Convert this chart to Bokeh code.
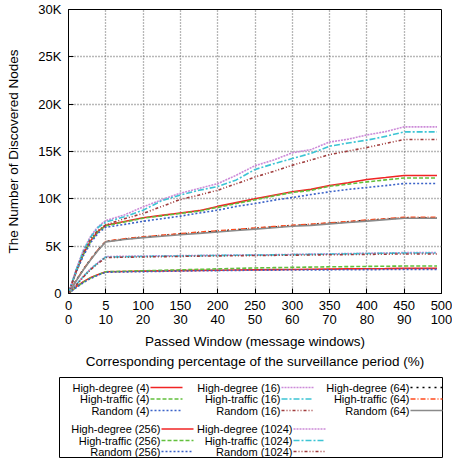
from bokeh.plotting import figure
from bokeh.models import Range1d, LinearAxis, FixedTicker, Title
from bokeh.layouts import column
from bokeh.embed import file_html
from bokeh.resources import INLINE
from bokeh.core.properties import value

# ---------------- data (values in thousands of nodes) ----------------
windows = [0, 10, 20, 30, 40, 50, 75, 100, 125, 150, 175, 200, 225, 250, 275,
           300, 325, 350, 375, 400, 425, 450, 494]

x_ticks = [0, 50, 100, 150, 200, 250, 300, 350, 400, 450, 500]
window_labels = ["0", "5", "100", "150", "200", "250", "300", "350", "400", "450", "500"]
percent_labels = ["0", "10", "20", "30", "40", "50", "60", "70", "80", "90", "100"]
y_ticks = [0, 5, 10, 15, 20, 25, 30]
y_labels = ["0", "5K", "10K", "15K", "20K", "25K", "30K"]

hd_4 = [0, 0.7, 1.25, 1.7, 2.0, 2.3, 2.33, 2.36, 2.39, 2.42, 2.44, 2.46, 2.48, 2.5, 2.52,
        2.54, 2.56, 2.58, 2.6, 2.62, 2.63, 2.65, 2.65]
ht_4 = [0, 0.65, 1.2, 1.65, 2.0, 2.3, 2.35, 2.4, 2.45, 2.5, 2.55, 2.6, 2.65, 2.7, 2.73,
        2.76, 2.79, 2.82, 2.84, 2.86, 2.88, 2.9, 2.9]
rnd_4 = [0, 0.6, 1.15, 1.6, 1.95, 2.25, 2.28, 2.31, 2.34, 2.37, 2.4, 2.42, 2.44, 2.46, 2.47,
         2.48, 2.49, 2.5, 2.51, 2.52, 2.53, 2.55, 2.55]

hd_16 = [0, 0.95, 1.85, 2.65, 3.3, 3.9, 3.93, 3.96, 3.98, 4.0, 4.02, 4.04, 4.06, 4.08, 4.1,
         4.13, 4.16, 4.19, 4.22, 4.25, 4.28, 4.32, 4.32]
ht_16 = [0, 0.9, 1.8, 2.6, 3.25, 3.85, 3.88, 3.91, 3.94, 3.97, 4.0, 4.02, 4.04, 4.06, 4.08,
         4.1, 4.13, 4.16, 4.19, 4.22, 4.25, 4.28, 4.28]
rnd_16 = [0, 0.85, 1.75, 2.55, 3.2, 3.8, 3.83, 3.86, 3.89, 3.92, 3.95, 3.97, 3.99, 4.01, 4.03,
          4.05, 4.07, 4.09, 4.11, 4.13, 4.15, 4.18, 4.18]

hd_64 = [0, 1.35, 2.55, 3.65, 4.65, 5.5, 5.75, 5.95, 6.12, 6.28, 6.43, 6.58, 6.73, 6.88, 7.02,
         7.16, 7.28, 7.42, 7.56, 7.72, 7.86, 8.0, 8.0]
ht_64 = [0, 1.35, 2.55, 3.65, 4.65, 5.5, 5.78, 5.98, 6.15, 6.32, 6.48, 6.62, 6.77, 6.92, 7.06,
         7.2, 7.32, 7.46, 7.6, 7.76, 7.9, 8.05, 8.05]
rnd_64 = [0, 1.3, 2.5, 3.6, 4.6, 5.45, 5.7, 5.9, 6.05, 6.2, 6.35, 6.5, 6.65, 6.8, 6.95,
          7.1, 7.2, 7.35, 7.5, 7.65, 7.8, 7.95, 7.95]

hd_256 = [0, 2.3, 4.2, 5.6, 6.6, 7.2, 7.6, 8.0, 8.25, 8.5, 8.75, 9.2, 9.6, 10.0, 10.38,
          10.74, 11.0, 11.41, 11.7, 12.04, 12.25, 12.47, 12.47]
ht_256 = [0, 2.25, 4.15, 5.55, 6.55, 7.15, 7.55, 7.95, 8.2, 8.45, 8.7, 9.1, 9.5, 9.9, 10.3,
          10.67, 10.9, 11.33, 11.55, 11.79, 12.0, 12.2, 12.2]
rnd_256 = [0, 2.2, 4.0, 5.4, 6.4, 7.0, 7.3, 7.63, 7.9, 8.17, 8.5, 8.8, 9.2, 9.5, 9.85,
           10.14, 10.45, 10.74, 11.0, 11.2, 11.4, 11.62, 11.62]

hd_1024 = [0, 2.5, 4.6, 6.1, 7.1, 7.7, 8.3, 9.15, 9.9, 10.6, 11.1, 11.6, 12.5, 13.5, 14.1,
           14.86, 15.2, 16.0, 16.3, 16.75, 17.1, 17.6, 17.6]
ht_1024 = [0, 2.4, 4.5, 6.0, 7.0, 7.55, 8.1, 8.8, 9.8, 10.4, 10.9, 11.3, 12.0, 13.1, 13.7,
           14.26, 14.8, 15.56, 15.9, 16.2, 16.6, 17.07, 17.07]
rnd_1024 = [0, 2.3, 4.3, 5.8, 6.7, 7.25, 7.9, 8.45, 9.2, 9.93, 10.4, 10.9, 11.6, 12.3, 12.9,
            13.55, 14.1, 14.68, 15.05, 15.42, 15.85, 16.27, 16.27]

labels = ["High-degree (4)", "High-traffic (4)", "Random (4)",
          "High-degree (16)", "High-traffic (16)", "Random (16)",
          "High-degree (64)", "High-traffic (64)", "Random (64)",
          "High-degree (256)", "High-traffic (256)", "Random (256)",
          "High-degree (1024)", "High-traffic (1024)", "Random (1024)"]
values = [hd_4, ht_4, rnd_4, hd_16, ht_16, rnd_16, hd_64, ht_64, rnd_64,
          hd_256, ht_256, rnd_256, hd_1024, ht_1024, rnd_1024]

# ---------------- styles ----------------
RED, GREEN, BLUE = "#f02424", "#62c03c", "#3a62c8"
PINK, CYAN, BROWN = "#cc8ad8", "#3cc4d4", "#a03c3c"
BLACK, ORANGE, GRAY = "#000000", "#ff4a1c", "#8a8a8a"
styles = [
    (RED, "solid"), (GREEN, "4 2"), (BLUE, "2 2"),
    (PINK, "2 1"), (CYAN, "6 2 2 2"), (BROWN, "3 2 1 2 1 2"),
    (BLACK, "2 4"), (ORANGE, "5 2 1 2"), (GRAY, "solid"),
    (RED, "solid"), (GREEN, "4 2"), (BLUE, "2 2"),
    (PINK, "2 1"), (CYAN, "6 2 2 2"), (BROWN, "3 2 1 2 1 2"),
]
FONT = "Liberation Sans"

W = 452
H_CHART = 370
H_LEG = 88

# ---------------- chart ----------------
p = figure(width=W, height=H_CHART, output_backend="svg", toolbar_location=None,
           x_range=Range1d(0, 500), y_range=Range1d(0, 30),
           min_border_left=68, min_border_right=11, min_border_top=9, min_border_bottom=77)
p.outline_line_color = "black"
p.outline_line_width = 1
p.outline_line_alpha = 1

xa = p.xaxis[0]
xa.ticker = FixedTicker(ticks=x_ticks)
xa.major_label_overrides = {t: s for t, s in zip(x_ticks, window_labels)}
xa.major_tick_in = 5
xa.major_tick_out = 0
xa.minor_tick_line_color = None
xa.major_label_standoff = 7
xa.major_label_text_font = FONT
xa.major_label_text_font_size = "13px"
xa.major_label_text_color = "black"
xa.axis_line_color = "black"

ya = p.yaxis[0]
ya.ticker = FixedTicker(ticks=y_ticks)
ya.major_label_overrides = {t: s for t, s in zip(y_ticks, y_labels)}
ya.major_tick_in = 5
ya.major_tick_out = 0
ya.minor_tick_line_color = None
ya.major_label_standoff = 7
ya.major_label_text_font = FONT
ya.major_label_text_font_size = "13px"
ya.major_label_text_color = "black"
ya.axis_label = "The Number of Discovered Nodes"
ya.axis_label_text_font = FONT
ya.axis_label_text_font_size = "13.5px"
ya.axis_label_text_font_style = "normal"
ya.axis_label_text_color = "black"
ya.axis_label_standoff = 14

xa2 = LinearAxis(ticker=FixedTicker(ticks=x_ticks),
                 major_label_overrides={t: s for t, s in zip(x_ticks, percent_labels)},
                 axis_line_color=None, major_tick_line_color=None, minor_tick_line_color=None,
                 major_tick_in=0, major_tick_out=0, major_label_standoff=2,
                 major_label_text_font=FONT, major_label_text_font_size="13px",
                 major_label_text_color="black",
                 axis_label="Passed Window (message windows)",
                 axis_label_text_font=FONT, axis_label_text_font_size="13.5px",
                 axis_label_text_font_style="normal", axis_label_text_color="black",
                 axis_label_standoff=7)
p.add_layout(xa2, "below")
p.add_layout(Title(text="Corresponding percentage of the surveillance period (%)",
                   align="center", text_font=FONT, text_font_size="13.5px",
                   text_font_style="normal", text_color="black", standoff=0), "below")

for g in (p.xgrid[0], p.ygrid[0]):
    g.grid_line_color = "#707070"
    g.grid_line_dash = "1 2"
    g.grid_line_width = 1.3
    g.grid_line_alpha = 1.0
p.xgrid[0].ticker = FixedTicker(ticks=x_ticks)
p.ygrid[0].ticker = FixedTicker(ticks=y_ticks)

for ys, (col, dash) in zip(values, styles):
    p.line(windows, ys, line_color=col, line_dash=dash, line_width=1.6)

# ---------------- legend panel (pixel coordinates, y measured from panel top) ----------
leg = figure(width=W, height=H_LEG, output_backend="svg", toolbar_location=None,
             x_range=Range1d(0, W), y_range=Range1d(0, H_LEG), min_border=0)
try:
    leg.frame_align = False
    p.frame_align = False
except Exception:
    pass
leg.axis.visible = False
leg.grid.visible = False
leg.outline_line_color = None
BOX_L, BOX_R, BOX_T, BOX_B = 59, 442, 7, 87
leg.quad(left=BOX_L, right=BOX_R, top=H_LEG - BOX_T, bottom=H_LEG - BOX_B,
         fill_color=None, line_color="black", line_width=1)

# text right edges per legend column, rows per block
col_right = [[149, 280, 409], [160, 292]]
row_y = [[17, 28.5, 40], [58.5, 70, 81]]
SAMPLE = 32
idx = 0
for block in range(2):
    groups = 3 if block == 0 else 2
    for c in range(groups):
        for r in range(3):
            xr = col_right[block][c]
            yy = H_LEG - row_y[block][r]
            col, dash = styles[idx]
            leg.text(x=[xr], y=[yy], text=[labels[idx]], text_align="right",
                     text_baseline="middle", text_font=value(FONT), text_font_size="11px",
                     text_color="black")
            leg.line(x=[xr + 1, xr + 1 + SAMPLE], y=[yy, yy], line_color=col,
                     line_dash=dash, line_width=1.5)
            idx += 1

layout = column(p, leg, spacing=0)
open("out.html", "w").write(file_html(layout, INLINE))
